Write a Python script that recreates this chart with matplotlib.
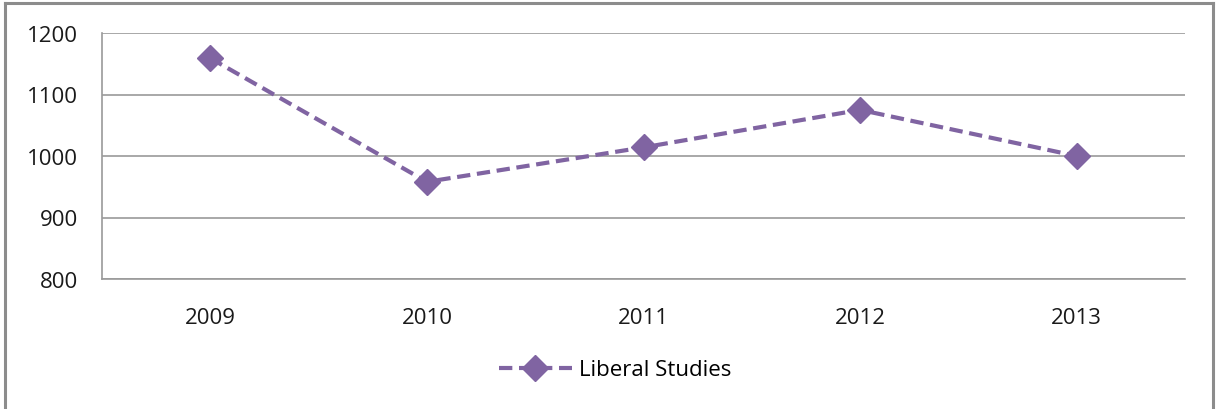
import matplotlib.pyplot as plt
from matplotlib.lines import Line2D

years = ["2009", "2010", "2011", "2012", "2013"]
liberal_studies = [1159, 958, 1014, 1075, 1000]
y_ticks = [800, 900, 1000, 1100, 1200]

purple = "#8064A2"
grid_gray = "#9a9a9a"
dash = (0, (3.2, 1.6))

plt.rcParams['font.family'] = ['Open Sans', 'DejaVu Sans']

fig = plt.figure(figsize=(12.19, 4.10), dpi=100)
ax = fig.add_axes([102 / 1219, 1 - 280 / 410, (1185 - 102) / 1219, (280 - 34) / 410])

x = list(range(len(years)))
ax.plot(x, liberal_studies, color=purple, linestyle=dash, linewidth=3.0,
        marker='D', markersize=13, markerfacecolor=purple, markeredgecolor=purple,
        label="Liberal Studies")

ax.set_xlim(-0.5, len(years) - 0.5)
ax.set_ylim(800, 1200)
ax.set_yticks(y_ticks)
ax.set_yticklabels([str(v) for v in y_ticks])
ax.set_xticks(x)
ax.set_xticklabels(years)
ax.tick_params(axis='both', length=0, labelsize=16, colors='#1a1a1a')
ax.tick_params(axis='x', pad=20)
ax.tick_params(axis='y', pad=17)

ax.grid(axis='y', color=grid_gray, linewidth=1.2)
ax.set_axisbelow(True)
for side in ['top', 'right']:
    ax.spines[side].set_visible(False)
for side in ['left', 'bottom']:
    ax.spines[side].set_color(grid_gray)
    ax.spines[side].set_linewidth(1.2)

handle = Line2D([], [], color=purple, linestyle=dash, linewidth=3.0,
                marker='D', markersize=13, markerfacecolor=purple, markeredgecolor=purple)
fig.legend([handle], ["Liberal Studies"], loc='center', bbox_to_anchor=(615 / 1219, 1 - 371 / 410),
           frameon=False, fontsize=16, handlelength=3.3, handletextpad=0.3)

# outer chart frame
frame_kw = dict(color='#8c8c8c', linewidth=2.2, transform=fig.transFigure)
fig.add_artist(Line2D([5 / 1219, 5 / 1219], [0, 1 - 4 / 410], **frame_kw))
fig.add_artist(Line2D([5 / 1219, 1213 / 1219], [1 - 4 / 410, 1 - 4 / 410], **frame_kw))
fig.add_artist(Line2D([1213 / 1219, 1213 / 1219], [0, 1 - 4 / 410], **frame_kw))

fig.savefig("out.png", dpi=100)
